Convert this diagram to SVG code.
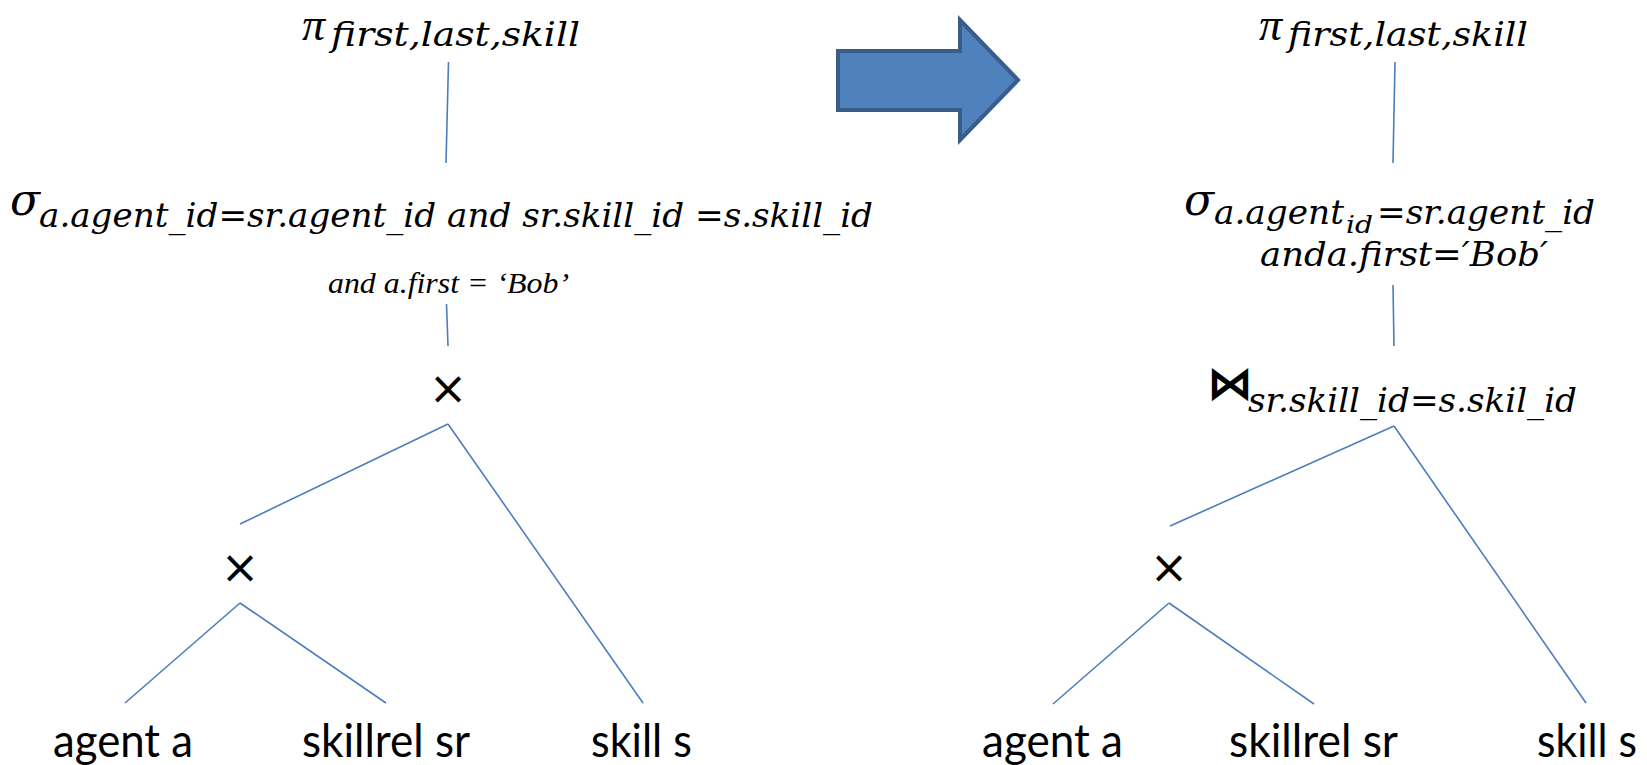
<svg xmlns="http://www.w3.org/2000/svg" width="1647" height="765" viewBox="0 0 1647 765">
<style>
.m{font-family:"DejaVu Serif",serif;font-style:italic;font-size:44px;fill:#000}
.pi{font-family:"Liberation Serif",serif;font-style:italic;font-size:46px;fill:#000}
.ms{font-family:"DejaVu Serif",serif;font-style:italic;font-size:34px;fill:#000}
.mss{font-size:25px}
.it{font-family:"Liberation Serif",serif;font-style:italic;font-size:30px;fill:#000}
.lb{font-family:Lato,"Liberation Sans",sans-serif;font-size:46px;fill:#000}
.op{font-family:"DejaVu Sans",sans-serif;font-size:46px;fill:#000;text-anchor:middle}
.jn{font-family:"DejaVu Sans",sans-serif;font-size:46px;font-weight:bold;fill:#000}
.e{stroke:#4A7EBB;stroke-width:1.6;fill:none}
</style>
<g id="arrow">
<polygon points="838,51 960,51 960,20 1018,80 960,140 960,110 838,110" fill="#4F81BD" stroke="#385D8A" stroke-width="4"/>
</g>
<g id="connectors">
<line class="e" x1="448.5" y1="62" x2="446" y2="163"/>
<line class="e" x1="446.5" y1="304" x2="448" y2="346"/>
<line class="e" x1="448" y1="424" x2="240" y2="524"/>
<line class="e" x1="448" y1="424" x2="643" y2="703"/>
<line class="e" x1="240" y1="603" x2="125" y2="703"/>
<line class="e" x1="240" y1="603" x2="386" y2="703"/>
<line class="e" x1="1395" y1="62" x2="1393" y2="163"/>
<line class="e" x1="1393" y1="285" x2="1394" y2="346"/>
<line class="e" x1="1394" y1="426" x2="1170" y2="526"/>
<line class="e" x1="1394" y1="426" x2="1586" y2="703"/>
<line class="e" x1="1169" y1="603" x2="1053" y2="704"/>
<line class="e" x1="1169" y1="603" x2="1314" y2="704"/>
</g>
<g id="left-project">
<text class="pi" x="302" y="40">π</text>
<text class="ms" x="331" y="46" textLength="249" lengthAdjust="spacingAndGlyphs">first,last,skill</text>
</g>
<g id="left-select">
<text class="m" x="10" y="215">σ</text>
<text class="ms" x="39" y="227" textLength="834" lengthAdjust="spacingAndGlyphs">a.agent_id=sr.agent_id and sr.skill_id =s.skill_id</text>
<text class="it" x="328" y="293" textLength="241" lengthAdjust="spacingAndGlyphs">and a.first = ‘Bob’</text>
</g>
<g id="left-cross1"><text class="op" x="448" y="404">×</text></g>
<g id="left-cross2"><text class="op" x="240" y="583">×</text></g>
<g id="left-agent"><text class="lb" x="53" y="757" textLength="140" lengthAdjust="spacingAndGlyphs">agent a</text></g>
<g id="left-skillrel"><text class="lb" x="302" y="757" textLength="168" lengthAdjust="spacingAndGlyphs">skillrel sr</text></g>
<g id="left-skill"><text class="lb" x="591" y="757" textLength="101" lengthAdjust="spacingAndGlyphs">skill s</text></g>
<g id="right-project">
<text class="pi" x="1259" y="40">π</text>
<text class="ms" x="1288" y="46" textLength="240" lengthAdjust="spacingAndGlyphs">first,last,skill</text>
</g>
<g id="right-select">
<text class="m" x="1184" y="215">σ</text>
<text class="ms"><tspan x="1214" y="224" textLength="130" lengthAdjust="spacingAndGlyphs">a.agent</tspan><tspan class="mss" x="1346" y="233" textLength="27" lengthAdjust="spacingAndGlyphs">id</tspan><tspan x="1377" y="224" textLength="218" lengthAdjust="spacingAndGlyphs">=sr.agent_id</tspan></text>
<text class="ms" x="1260" y="266" textLength="288" lengthAdjust="spacingAndGlyphs">anda.first=′Bob′</text>
</g>
<g id="right-join">
<text class="jn" x="1207" y="399">⋈</text>
<text class="ms" x="1248" y="412" textLength="329" lengthAdjust="spacingAndGlyphs">sr.skill_id=s.skil_id</text>
</g>
<g id="right-cross"><text class="op" x="1169" y="583">×</text></g>
<g id="right-agent"><text class="lb" x="982" y="757" textLength="141" lengthAdjust="spacingAndGlyphs">agent a</text></g>
<g id="right-skillrel"><text class="lb" x="1229" y="757" textLength="169" lengthAdjust="spacingAndGlyphs">skillrel sr</text></g>
<g id="right-skill"><text class="lb" x="1537" y="757" textLength="100" lengthAdjust="spacingAndGlyphs">skill s</text></g>
</svg>
